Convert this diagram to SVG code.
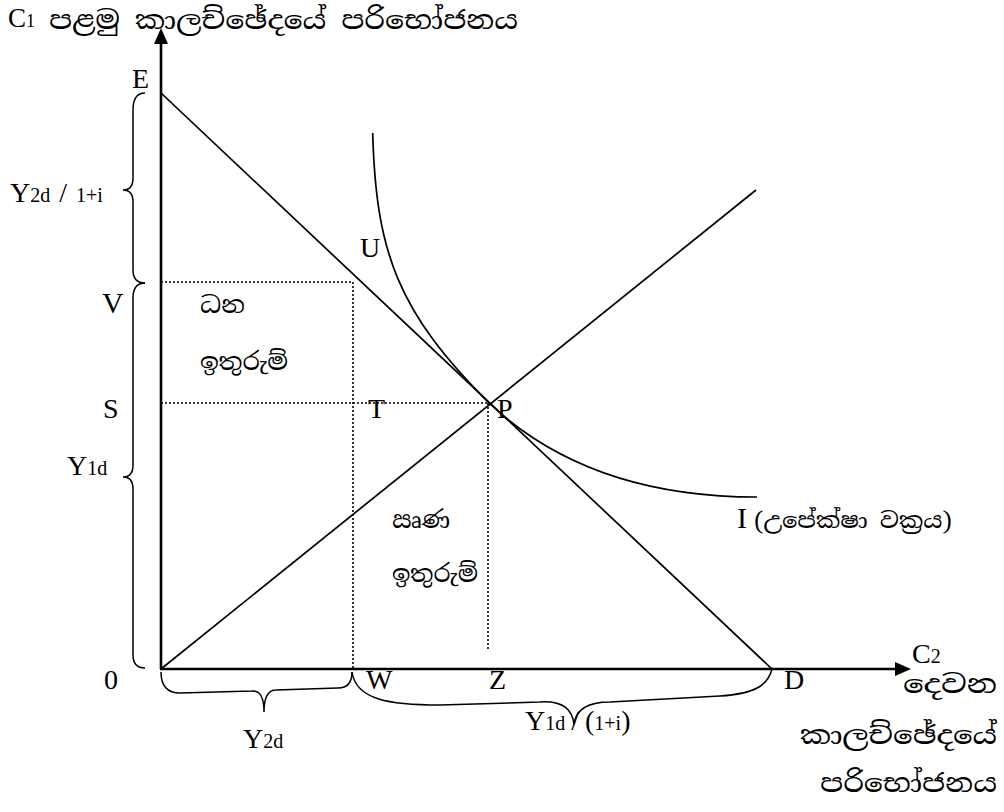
<svg xmlns="http://www.w3.org/2000/svg" width="1004" height="812" viewBox="0 0 1004 812">
<style>
.lat{font-family:"Liberation Serif","Times New Roman",serif;fill:#000;font-size:28px}
.sub{font-size:20px}
.sin{font-family:"Noto Serif Sinhala","Noto Sans Sinhala","Iskoola Pota","Liberation Serif",serif;fill:#000}
.ax{stroke:#000;stroke-width:2.6;fill:none}
.ln{stroke:#000;stroke-width:1.7;fill:none}
.dot{stroke:#000;stroke-width:1.6;stroke-dasharray:2 2;fill:none}
.br{stroke:#000;stroke-width:1.5;fill:none}
</style>
<rect width="1004" height="812" fill="#fff"/>
<g id="connectors">
<line class="ax" x1="161" y1="42" x2="161" y2="669"/>
<polygon points="161,28 154,44 168,44" fill="#000"/>
<line class="ax" x1="160" y1="669" x2="897" y2="669"/>
<polygon points="911,669 895,662 895,676" fill="#000"/>
<line class="ln" x1="161" y1="93" x2="772" y2="669"/>
<line class="ln" x1="161" y1="669" x2="756" y2="190"/>
<path class="ln" d="M372.7,133 C376,253 398,312 489,403 C559,469 650,497 757,497"/>
<polyline class="dot" points="161,282 353,282 353,669"/>
<line class="dot" x1="161" y1="403" x2="489" y2="403"/>
<line class="dot" x1="488" y1="403" x2="488" y2="650"/>
<path class="br" d="M145,93 Q133,93 133,110 L133,178 Q133,190 123,190 Q133,190 133,202 L133,270 Q133,283 145,283"/>
<path class="br" d="M145,283 Q133,283 133,298 L133,465 Q133,477 123,477 Q133,477 133,489 L133,655 Q133,668 145,668"/>
<path class="br" d="M161,672 Q161,693 180,693 L252,691 Q264,690 264,712 Q264,690 276,690 L338,688 Q352,688 352,672"/>
<path class="br" d="M352,672 C356,700 390,705 440,705 L540,702 Q572,700 574,725 Q576,702 610,702 L720,696 C755,694 768,685 772,669"/>
</g>
<g id="title">
<text class="lat" x="8" y="27" style="font-size:27px">C<tspan style="font-size:18px">1</tspan></text>
<text class="sin" x="49" y="29" font-size="26" textLength="469" lengthAdjust="spacingAndGlyphs">පළමු කාලච්ඡේදයේ පරිභෝජනය</text>
</g>
<g id="E"><text class="lat" x="132" y="88">E</text></g>
<g id="Y2d-left"><text class="lat" x="10" y="202">Y<tspan class="sub">2d</tspan><tspan dx="9">/</tspan><tspan class="sub" dx="9">1+i</tspan></text></g>
<g id="V"><text class="lat" x="102" y="313" style="font-size:30px">V</text></g>
<g id="S"><text class="lat" x="103" y="418">S</text></g>
<g id="Y1d-left"><text class="lat" x="67" y="475">Y<tspan class="sub">1d</tspan></text></g>
<g id="O"><text class="lat" x="104" y="689">0</text></g>
<g id="W"><text class="lat" x="366" y="689">W</text></g>
<g id="Z"><text class="lat" x="489" y="689">Z</text></g>
<g id="D"><text class="lat" x="784" y="689">D</text></g>
<g id="U"><text class="lat" x="360" y="257">U</text></g>
<g id="T"><text class="lat" x="368" y="418">T</text></g>
<g id="P"><text class="lat" x="497" y="418">P</text></g>
<g id="Y2d-bottom"><text class="lat" x="243" y="748">Y<tspan class="sub">2d</tspan></text></g>
<g id="Y1d-bottom"><text class="lat" x="525" y="730">Y<tspan class="sub">1d</tspan><tspan dx="6">/</tspan><tspan dx="6">(</tspan><tspan class="sub">1+i</tspan>)</text></g>
<g id="C2"><text class="lat" x="912" y="663">C<tspan class="sub">2</tspan></text></g>
<g id="C2-label">
<text class="sin" x="903" y="693" font-size="26" textLength="94" lengthAdjust="spacingAndGlyphs">දෙවන</text>
<text class="sin" x="800" y="744" font-size="26" textLength="197" lengthAdjust="spacingAndGlyphs">කාලච්ඡේදයේ</text>
<text class="sin" x="820" y="792" font-size="26" textLength="177" lengthAdjust="spacingAndGlyphs">පරිභෝජනය</text>
</g>
<g id="positive-savings">
<text class="sin" x="200" y="313" font-size="23" textLength="45" lengthAdjust="spacingAndGlyphs">ධන</text>
<text class="sin" x="200" y="370" font-size="23" textLength="88" lengthAdjust="spacingAndGlyphs">ඉතුරුම්</text>
</g>
<g id="negative-savings">
<text class="sin" x="392" y="528" font-size="23" textLength="58" lengthAdjust="spacingAndGlyphs">ඍණ</text>
<text class="sin" x="392" y="582" font-size="23" textLength="86" lengthAdjust="spacingAndGlyphs">ඉතුරුම්</text>
</g>
<g id="I-label">
<text class="lat" x="737" y="528" style="font-size:30px">I</text>
<text class="sin" x="754" y="528" font-size="22" textLength="198" lengthAdjust="spacingAndGlyphs">(උපේක්ෂා වක්‍රය)</text>
</g>
</svg>
